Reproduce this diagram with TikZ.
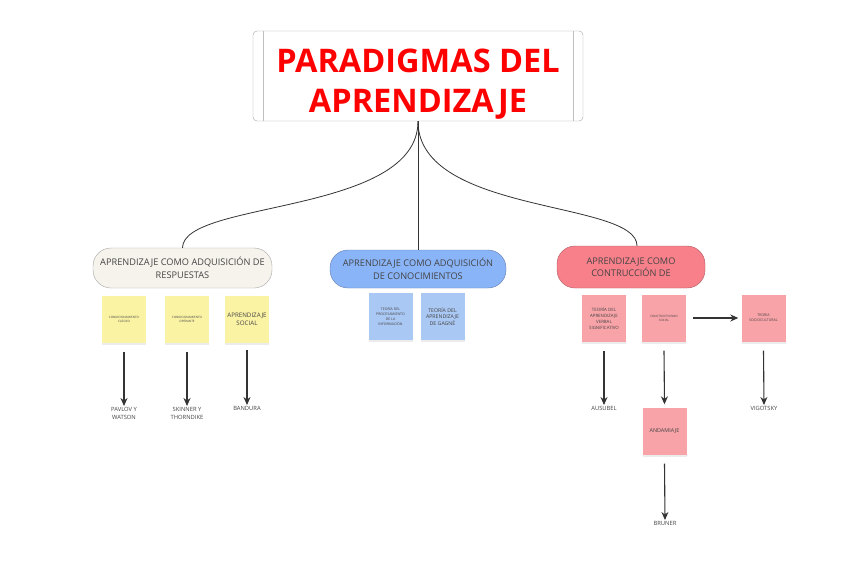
\documentclass[tikz,border=0pt]{standalone}
\usepackage{fontspec}
\setmainfont{Open Sans}
\usetikzlibrary{arrows.meta,shadows}
\definecolor{cream}{HTML}{F6F3EC}
\definecolor{pillblue}{HTML}{8AB4F8}
\definecolor{pillred}{HTML}{F8808A}
\definecolor{stickyyellow}{HTML}{FBF3A4}
\definecolor{stickyblue}{HTML}{AAC8F4}
\definecolor{stickypink}{HTML}{F8A3A8}
\definecolor{txtgray}{HTML}{444444}
\tikzset{
  conn/.style={draw=black!80, line width=0.8pt},
  pill/.style={draw=gray!70, rounded corners=18pt, align=center, inner sep=0pt,
    font=\fontsize{9.2}{12.5}\selectfont, text=txtgray},
  sticky/.style={minimum width=44pt, minimum height=47pt, align=center, inner sep=1pt,
    text=txtgray, drop shadow={shadow xshift=0pt, shadow yshift=-2pt, opacity=0.15}},
  tinytext/.style={font=\fontsize{3}{4}\selectfont},
  lbl/.style={align=center, inner sep=1pt, text=txtgray, font=\fontsize{5.8}{8.5}\selectfont},
  arr/.style={-{Stealth[length=8pt,width=7pt]}, line width=1.1pt, draw=black!80},
}
\begin{document}
\begin{tikzpicture}[x=1pt,y=-1pt]
\useasboundingbox[fill=white] (0,0) rectangle (848,583);

% title
\node[draw=gray!70, rounded corners=4pt, minimum width=330pt, minimum height=90pt] (title) at (418,76) {};
\node[align=center, text=red, font=\bfseries\fontsize{32.5}{40}\selectfont] (titletext) at (418,84)
  {PARADIGMAS DEL\\APRENDIZAJE};
\draw[gray!50] ([xshift=10pt]title.north west) -- ([xshift=10pt]title.south west);
\draw[gray!50] ([xshift=-10pt]title.north east) -- ([xshift=-10pt]title.south east);

% pills
\node[pill, fill=cream, minimum width=179pt, minimum height=40pt] (p1) at (182.5,268)
  {APRENDIZAJE COMO ADQUISICIÓN DE\\RESPUESTAS};
\node[pill, fill=pillblue, draw=pillblue!70!black, minimum width=176pt, minimum height=38pt] (p2) at (418,269)
  {APRENDIZAJE COMO ADQUISICIÓN\\DE CONOCIMIENTOS};
\node[pill, fill=pillred, draw=pillred!70!black, minimum width=148pt, minimum height=42pt] (p3) at (631,267)
  {APRENDIZAJE COMO\\CONTRUCCIÓN DE};

% connectors from title
\draw[conn] (title.south) .. controls (418,215) and (183,200) .. (p1.north);
\draw[conn] (title.south) -- (p2.north);
\draw[conn] (title.south) .. controls (418,215) and (637,200) .. ([xshift=6pt]p3.north);

% yellow stickies
\node[sticky, fill=stickyyellow, tinytext] (s1) at (124,319.5) {CONDICIONAMIENTO\\CLÁSICO};
\node[sticky, fill=stickyyellow, tinytext] (s2) at (187,319.5) {CONDICIONAMIENTO\\OPERANTE};
\node[sticky, fill=stickyyellow, font=\fontsize{6.2}{7.8}\selectfont] (s3) at (247,319.5) {APRENDIZAJE\\SOCIAL};

% blue stickies
\node[sticky, fill=stickyblue, font=\fontsize{3.5}{5}\selectfont] (b1) at (390.5,316.5) {TEORÍA DEL\\PROCESAMIENTO\\DE LA\\INFORMACIÓN};
\node[sticky, fill=stickyblue, font=\fontsize{5.2}{6.2}\selectfont] (b2) at (442.5,316.5) {TEORÍA DEL\\APRENDIZAJE\\DE GAGNÉ};

% pink stickies
\node[sticky, fill=stickypink, font=\fontsize{4.4}{6}\selectfont] (r1) at (604,318) {TEORÍA DEL\\APRENDIZAJE\\VERBAL\\SIGNIFICATIVO};
\node[sticky, fill=stickypink, tinytext] (r2) at (664,318) {CONSTRUCTIVISMO\\SOCIAL};
\node[sticky, fill=stickypink, font=\fontsize{3.6}{5}\selectfont] (r3) at (763.5,318) {TEORIA\\SOCIOCULTURAL};
\node[sticky, fill=stickypink, font=\fontsize{5.4}{6.5}\selectfont] (r4) at (664.5,431) {ANDAMIAJE};

% labels
\node[lbl, anchor=north] (l1) at (124,406) {PAVLOV Y\\WATSON};
\node[lbl, anchor=north] (l2) at (187,406) {SKINNER Y\\THORNDIKE};
\node[lbl, anchor=north] (l3) at (247,405) {BANDURA};
\node[lbl, anchor=north] (l4) at (604,405) {AUSUBEL};
\node[lbl, anchor=north] (l5) at (764,405) {VIGOTSKY};
\node[lbl, anchor=north] (l6) at (665,520) {BRUNER};

% arrows
\draw[arr] ([yshift=-9pt]s1.south) -- (l1.north);
\draw[arr] ([yshift=-9pt]s2.south) -- (l2.north);
\draw[arr] ([yshift=-7pt]s3.south) -- (l3.north);
\draw[arr] ([yshift=-9pt]r1.south) -- (l4.north);
\draw[arr] ([yshift=-9pt]r2.south) -- ([yshift=3pt]r4.north);
\draw[arr] ([yshift=-9pt]r3.south) -- (l5.north);
\draw[arr] ([yshift=-9pt]r4.south) -- (l6.north);
\draw[arr] ([xshift=7pt]r2.east) -- ([xshift=-3pt]r3.west);
\end{tikzpicture}
\end{document}
